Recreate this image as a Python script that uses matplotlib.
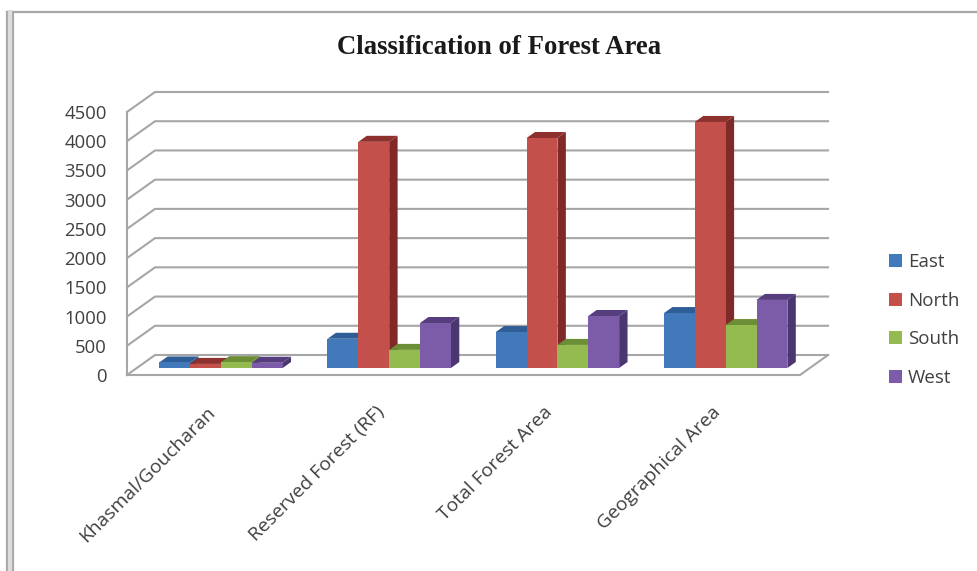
import numpy as np
import matplotlib
matplotlib.use('Agg')
import matplotlib.pyplot as plt
from matplotlib.lines import Line2D
from matplotlib.patches import Patch
from matplotlib.transforms import ScaledTranslation

categories = ['Khasmal/Goucharan', 'Reserved Forest (RF)', 'Total Forest Area', 'Geographical Area']
east = [95, 500, 615, 940]
north = [70, 3870, 3935, 4210]
south = [100, 310, 395, 735]
west = [90, 770, 890, 1165]
series_names = ['East', 'North', 'South', 'West']
y_ticks = list(range(0, 5000, 500))

series = [east, north, south, west]
front_colors = ['#4279ba', '#c4504c', '#93bb4f', '#7c5ca8']
side_colors = ['#2a5184', '#7f2a28', '#5f7e30', '#4b3670']
top_colors = ['#2f5d96', '#8e302e', '#6b8e36', '#553d7e']

W, H = 977, 571
GRID = '#a6a6a6'
TEXT = '#404040'
FONT = 'Open Sans'

# size of the chart floor's depth, in data units
DEPTH_X = 28 / 168
DEPTH_Y = 20 / 263 * 4500
BAR_W = 30.8 / 168
GROUP_W = BAR_W * 4


def project(x, y, d):
    # d is 0 at the front of the floor and 1 at the back wall
    return x + d * DEPTH_X, y + d * DEPTH_Y


def draw_bar(ax, x, value, i):
    d0, d1 = 0.35, 0.65
    x1 = x + BAR_W
    front = [project(x, 0, d0), project(x1, 0, d0), project(x1, value, d0), project(x, value, d0)]
    side = [project(x1, 0, d0), project(x1, 0, d1), project(x1, value, d1), project(x1, value, d0)]
    top = [project(x, value, d0), project(x1, value, d0), project(x1, value, d1), project(x, value, d1)]
    ax.fill(*zip(*side), color=side_colors[i], lw=0, zorder=3)
    ax.fill(*zip(*top), color=top_colors[i], lw=0, zorder=3)
    ax.fill(*zip(*front), color=front_colors[i], lw=0, zorder=3)


fig = plt.figure(figsize=(W / 100, H / 100), dpi=100)
ax = fig.add_axes([127 / W, 1 - 375 / H, (800 - 127) / W, 263 / H])
ax.set_xlim(0, 4)
ax.set_ylim(0, 4500)
ax.patch.set_alpha(0)
for s in ax.spines.values():
    s.set_visible(False)

# walls: diagonal on the left, long line along the back
for v in y_ticks:
    bx, by = project(0, v, 1)
    ex, ey = project(4, v, 1)
    ax.plot([0, bx, ex], [v, by, ey], color=GRID, lw=1.5, clip_on=False, zorder=1)
ax.plot([0, 0], [0, 4500], color=GRID, lw=1.5, clip_on=False, zorder=1)
# front and right edges of the floor
ex, ey = project(4, 0, 1)
ax.plot([0, 4, ex], [0, 0, ey], color=GRID, lw=1.5, clip_on=False, zorder=1)

# bars go left to right so each front hides the side of the one before
for c in range(len(categories)):
    start = c + (1 - GROUP_W) / 2
    for i, values in enumerate(series):
        draw_bar(ax, start + i * BAR_W, values[c], i)

ax.set_yticks(y_ticks)
ax.set_yticklabels([str(v) for v in y_ticks], fontsize=13.3, color=TEXT, family=FONT)
ax.set_xticks(np.arange(len(categories)) + 0.5)
ax.set_xticklabels(categories, fontsize=13.9, color=TEXT, family=FONT, rotation=45,
                   ha='right', va='top', rotation_mode='anchor')
ax.tick_params(axis='both', length=0)
ax.tick_params(axis='y', pad=14.5)
ax.tick_params(axis='x', pad=20)

# nudge the slanted labels left so they end under the group centres
nudge = ScaledTranslation(-4.5 / 100, 0, fig.dpi_scale_trans)
for label in ax.get_xticklabels():
    label.set_transform(label.get_transform() + nudge)

fig.text(499 / W, 1 - 48 / H, 'Classification of Forest Area', ha='center', va='center',
         fontsize=19.3, fontweight='bold', family='Liberation Serif', color='#1a1a1a')

handles = [Patch(facecolor=c, edgecolor='none', label=n) for c, n in zip(front_colors, series_names)]
leg = fig.legend(handles=handles, loc='center left', bbox_to_anchor=(889 / W, 1 - 320 / H),
                 frameon=False, fontsize=13.5, labelspacing=1.09, handlelength=0.7,
                 handleheight=0.7, handletextpad=0.32, borderpad=0, borderaxespad=0)
for t in leg.get_texts():
    t.set_color(TEXT)
    t.set_family(FONT)

# window frame around the chart
def frame_line(xs, ys, color, lw):
    fig.add_artist(Line2D([x / W for x in xs], [1 - y / H for y in ys], color=color, lw=lw))


frame_line([7, W], [12, 12], '#a8a8a8', 1.6)
frame_line([7, 7], [12, H], '#a8a8a8', 1.6)
frame_line([13, 13], [12, H], '#a8a8a8', 1.6)
frame_line([10, 10], [12, H], '#dcdcdc', 3)

fig.savefig('out.png', dpi=100)
